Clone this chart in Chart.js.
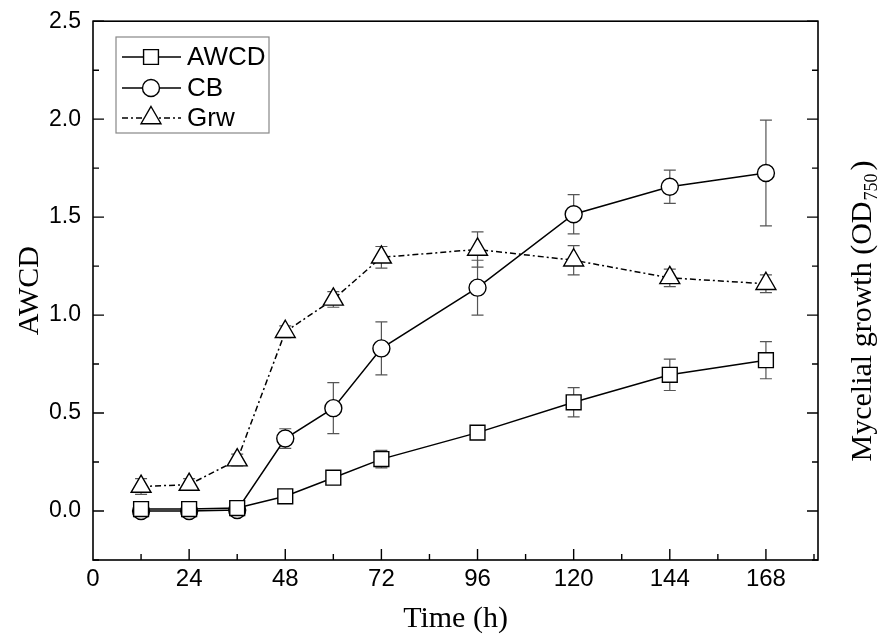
<!DOCTYPE html>
<html lang="en">

<head>
  <meta charset="UTF-8" />
  <title>AWCD, CB and mycelial growth</title>
  <script src="https://cdn.jsdelivr.net/npm/chart.js@4.4.0/dist/chart.umd.min.js"></script>
</head>
<style>
  body {
    margin: 0;
    background: #fff;
  }

  #wrap {
    width: 879px;
    height: 637px;
  }
</style>

<body>
  <div id="wrap"><canvas id="myChart" width="879" height="637"></canvas></div>

  <script>
    // values
    const hours = [12, 24, 36, 48, 60, 72, 96, 120, 144, 168];
    const awcd = [0.01, 0.01, 0.015, 0.075, 0.17, 0.265, 0.40, 0.555, 0.695, 0.77];
    const awcdErr = [0.03, 0.02, 0.02, 0.02, 0.02, 0.045, 0.03, 0.075, 0.08, 0.095];
    const cb = [0.0, 0.0, 0.005, 0.37, 0.525, 0.83, 1.14, 1.515, 1.655, 1.725];
    const cbErr = [0.02, 0.02, 0.02, 0.05, 0.13, 0.135, 0.14, 0.10, 0.085, 0.27];
    const grw = [0.125, 0.135, 0.26, 0.915, 1.08, 1.295, 1.335, 1.28, 1.19, 1.16];
    const grwErr = [0.04, 0.03, 0.03, 0.03, 0.04, 0.055, 0.09, 0.075, 0.045, 0.045];

    const xTicks = [0, 24, 48, 72, 96, 120, 144, 168];
    const yTicks = [0.0, 0.5, 1.0, 1.5, 2.0, 2.5];
    const seriesNames = ['AWCD', 'CB', 'Grw'];

    const sans = '"Liberation Sans", Arial, sans-serif';
    const narrow = '"Liberation Sans Narrow", "Arial Narrow", "Liberation Sans", sans-serif';
    const serif = '"Liberation Serif", "Times New Roman", serif';

    function toPoints(ys) {
      return hours.map((h, i) => ({ x: h, y: ys[i] }));
    }

    function makeSet(label, ys, err, style, radius, dash) {
      return {
        label: label,
        data: toPoints(ys),
        err: err,
        borderColor: '#000',
        borderWidth: 1.5,
        borderDash: dash,
        pointStyle: style,
        pointRadius: radius,
        pointHoverRadius: radius,
        pointBackgroundColor: '#fff',
        pointBorderColor: '#000',
        pointBorderWidth: 1.4,
        fill: false,
        tension: 0
      };
    }

    // error bars, drawn through the scales
    const errorBars = {
      id: 'errorBars',
      beforeDatasetsDraw(chart) {
        const ctx = chart.ctx;
        const xs = chart.scales.x, ys = chart.scales.y;
        ctx.save();
        ctx.strokeStyle = '#555';
        ctx.lineWidth = 1.2;
        chart.data.datasets.forEach(ds => {
          ds.data.forEach((p, i) => {
            const px = xs.getPixelForValue(p.x);
            const top = ys.getPixelForValue(p.y + ds.err[i]);
            const bot = ys.getPixelForValue(p.y - ds.err[i]);
            ctx.beginPath();
            ctx.moveTo(px, top); ctx.lineTo(px, bot);
            ctx.moveTo(px - 6, top); ctx.lineTo(px + 6, top);
            ctx.moveTo(px - 6, bot); ctx.lineTo(px + 6, bot);
            ctx.stroke();
          });
        });
        ctx.restore();
      }
    };

    // frame, inward ticks, legend and right title
    const frame = {
      id: 'frame',
      afterDraw(chart) {
        const ctx = chart.ctx;
        const a = chart.chartArea;
        const xs = chart.scales.x, ys = chart.scales.y;
        ctx.save();
        ctx.strokeStyle = '#000';
        ctx.lineWidth = 1.6;
        ctx.strokeRect(a.left, a.top, a.right - a.left, a.bottom - a.top);

        ctx.lineWidth = 1.4;
        ctx.beginPath();
        for (let v = -0.25; v <= 2.5001; v += 0.25) {
          const py = ys.getPixelForValue(v);
          const len = Math.abs((v * 2) % 1) < 0.01 ? 11 : 6;
          ctx.moveTo(a.left, py); ctx.lineTo(a.left + len, py);
          ctx.moveTo(a.right, py); ctx.lineTo(a.right - len, py);
        }
        for (let h = 12; h <= 180; h += 12) {
          const px = xs.getPixelForValue(h);
          const len = h % 24 === 0 ? 11 : 6;
          ctx.moveTo(px, a.bottom); ctx.lineTo(px, a.bottom - len);
        }
        ctx.stroke();

        // legend
        ctx.fillStyle = '#fff';
        ctx.fillRect(116, 37, 153, 96);
        ctx.strokeStyle = '#888';
        ctx.lineWidth = 1.2;
        ctx.strokeRect(116, 37, 153, 96);
        const rows = [57, 88, 118];
        chart.data.datasets.forEach((ds, i) => {
          const y = rows[i];
          ctx.strokeStyle = '#000';
          ctx.lineWidth = 1.3;
          ctx.setLineDash(ds.borderDash || []);
          ctx.beginPath();
          ctx.moveTo(122, y); ctx.lineTo(181, y);
          ctx.stroke();
          ctx.setLineDash([]);
          ctx.fillStyle = '#fff';
          ctx.lineWidth = 1.4;
          Chart.helpers.drawPoint(ctx, { pointStyle: ds.pointStyle, radius: ds.pointRadius, rotation: 0, borderWidth: 1.4 }, 151, y);
          ctx.fillStyle = '#000';
          ctx.font = '26px ' + sans;
          ctx.textAlign = 'left';
          ctx.textBaseline = 'middle';
          ctx.fillText(seriesNames[i], 187, y + 1);
        });

        // right axis title with subscript
        ctx.translate(871, 311);
        ctx.rotate(-Math.PI / 2);
        ctx.fillStyle = '#000';
        ctx.textBaseline = 'alphabetic';
        const bigFont = '30px ' + serif, smallFont = '18px ' + serif;
        ctx.font = bigFont;
        const w1 = ctx.measureText('Mycelial growth (OD').width;
        const w3 = ctx.measureText(')').width;
        ctx.font = smallFont;
        const w2 = ctx.measureText('750').width;
        let x0 = -(w1 + w2 + w3 + 4) / 2;
        ctx.font = bigFont;
        ctx.textAlign = 'left';
        ctx.fillText('Mycelial growth (OD', x0, 0);
        ctx.font = smallFont;
        ctx.fillText('750', x0 + w1 + 1, 6);
        ctx.font = bigFont;
        ctx.fillText(')', x0 + w1 + w2 + 4, 0);
        ctx.restore();
      }
    };

    window.addEventListener('load', setup);

    function setup() {
      const ctx = document.getElementById('myChart').getContext('2d');
      const myChart = new Chart(ctx, {
        type: 'line',
        data: {
          datasets: [
            makeSet('AWCD', awcd, awcdErr, 'rect', 10.5, []),
            makeSet('CB', cb, cbErr, 'circle', 8.5, []),
            makeSet('Grw', grw, grwErr, 'triangle', 11.5, [6, 3, 2, 3])
          ]
        },
        options: {
          responsive: false,
          animation: false,
          layout: { padding: { top: 21, right: 61, left: 0, bottom: 0 } },
          plugins: {
            legend: { display: false },
            tooltip: { enabled: false }
          },
          scales: {
            x: {
              type: 'linear',
              min: 0,
              max: 181,
              afterBuildTicks: s => { s.ticks = xTicks.map(v => ({ value: v })); },
              afterFit: s => { s.height = 77; },
              grid: { display: false, drawTicks: false },
              border: { display: false },
              ticks: {
                color: '#000',
                padding: 5,
                maxRotation: 0,
                font: { family: narrow, size: 24 },
                callback: v => String(v)
              },
              title: {
                display: true,
                text: 'Time (h)',
                color: '#000',
                font: { family: serif, size: 30, lineHeight: 1.2 },
                padding: { top: 0, bottom: 0 }
              }
            },
            y: {
              min: -0.25,
              max: 2.5,
              afterBuildTicks: s => { s.ticks = yTicks.map(v => ({ value: v })); },
              afterFit: s => { s.width = 93; },
              grid: { display: false, drawTicks: false },
              border: { display: false },
              ticks: {
                color: '#000',
                padding: 12,
                font: { family: sans, size: 23, lineHeight: 0.8 },
                callback: v => Number(v).toFixed(1)
              },
              title: {
                display: true,
                text: 'AWCD',
                color: '#000',
                font: { family: serif, size: 30, lineHeight: 1.2 },
                padding: { top: 12, bottom: 0 }
              }
            }
          }
        },
        plugins: [errorBars, frame]
      });
    }
  </script>
</body>

</html>
